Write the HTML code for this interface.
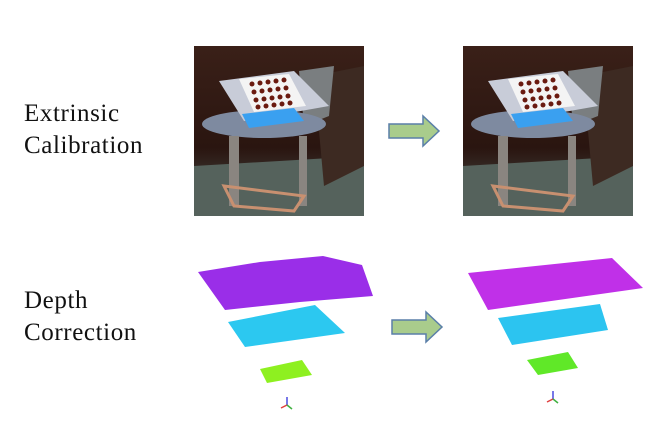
<!DOCTYPE html>
<html><head><meta charset="utf-8"><style>
body{margin:0;width:659px;height:440px;background:#fff;overflow:hidden;position:relative;font-family:"Liberation Serif",serif;}
.lbl{position:absolute;left:24px;font-size:25px;line-height:32px;color:#111;letter-spacing:0.6px;}
svg{position:absolute;left:0;top:0}
</style></head><body>
<div class="lbl" style="top:98px">Extrinsic<br>Calibration</div>
<div class="lbl" style="top:285px">Depth<br>Correction</div>
<svg width="659" height="440">
<defs>
<linearGradient id="bg" x1="0" y1="0" x2="0" y2="1"><stop offset="0" stop-color="#3a2018"/><stop offset="0.6" stop-color="#2a1510"/><stop offset="1" stop-color="#4a5650"/></linearGradient>
<g id="scene">
<rect width="170" height="170" fill="url(#bg)"/>
<polygon points="0,120 170,110 170,170 0,170" fill="#55625c"/>
<polygon points="120,30 170,20 170,120 130,140" fill="#3d2a22"/>
<polygon points="105,25 140,20 135,70 110,80" fill="#7a7e80"/>
<ellipse cx="70" cy="78" rx="62" ry="14" fill="#7e8aa0"/>
<polygon points="25,35 100,25 135,60 50,75" fill="#c8ccd8"/>
<polygon points="45,33 95,28 112,60 60,66" fill="#f4f4f4"/>
<polygon points="48,68 100,62 110,75 55,82" fill="#3aa0f0"/>
<rect x="35" y="90" width="10" height="70" fill="#8a8580"/>
<rect x="105" y="90" width="8" height="70" fill="#8a8580"/>
<path d="M30,140 L110,150 L100,165 L40,160Z" fill="none" stroke="#c89070" stroke-width="3"/>
<g fill="#6a1a10">
<circle cx="58" cy="38" r="2.5"/><circle cx="66" cy="37" r="2.5"/><circle cx="74" cy="36" r="2.5"/><circle cx="82" cy="35" r="2.5"/><circle cx="90" cy="34" r="2.5"/>
<circle cx="60" cy="46" r="2.5"/><circle cx="68" cy="45" r="2.5"/><circle cx="76" cy="44" r="2.5"/><circle cx="84" cy="43" r="2.5"/><circle cx="92" cy="42" r="2.5"/>
<circle cx="62" cy="54" r="2.5"/><circle cx="70" cy="53" r="2.5"/><circle cx="78" cy="52" r="2.5"/><circle cx="86" cy="51" r="2.5"/><circle cx="94" cy="50" r="2.5"/>
<circle cx="64" cy="61" r="2.5"/><circle cx="72" cy="60" r="2.5"/><circle cx="80" cy="59" r="2.5"/><circle cx="88" cy="58" r="2.5"/><circle cx="96" cy="57" r="2.5"/>
</g>
</g>
<g id="arrow"><polygon points="0,8 34,8 34,0 50,15 34,30 34,22 0,22" fill="#a9cc8c" stroke="#5a7fa8" stroke-width="1.5"/></g>
<g id="axes"><line x1="0" y1="0" x2="0" y2="-8" stroke="#4a4ae0" stroke-width="1.5"/><line x1="0" y1="0" x2="-6" y2="3" stroke="#e04040" stroke-width="1.5"/><line x1="0" y1="0" x2="5" y2="4" stroke="#40b040" stroke-width="1.5"/></g>
</defs>
<use href="#scene" x="194" y="46"/>
<use href="#scene" x="463" y="46"/>
<use href="#arrow" x="389" y="116"/>
<use href="#arrow" x="392" y="312"/>
<polygon points="198,272 260,262 323,256 362,265 373,296 300,302 225,310" fill="#9a2ee8"/>
<polygon points="228,322 315,305 345,333 245,347" fill="#2cc8f0"/>
<polygon points="260,369 302,360 312,375 267,383" fill="#8ef020"/>
<use href="#axes" x="287" y="405"/>
<polygon points="468,273 612,258 643,288 488,310" fill="#c030e8"/>
<polygon points="498,318 600,304 608,330 512,345" fill="#2cc4f0"/>
<polygon points="527,360 568,352 578,368 538,375" fill="#60e828"/>
<use href="#axes" x="553" y="399"/>
</svg>
</body></html>
